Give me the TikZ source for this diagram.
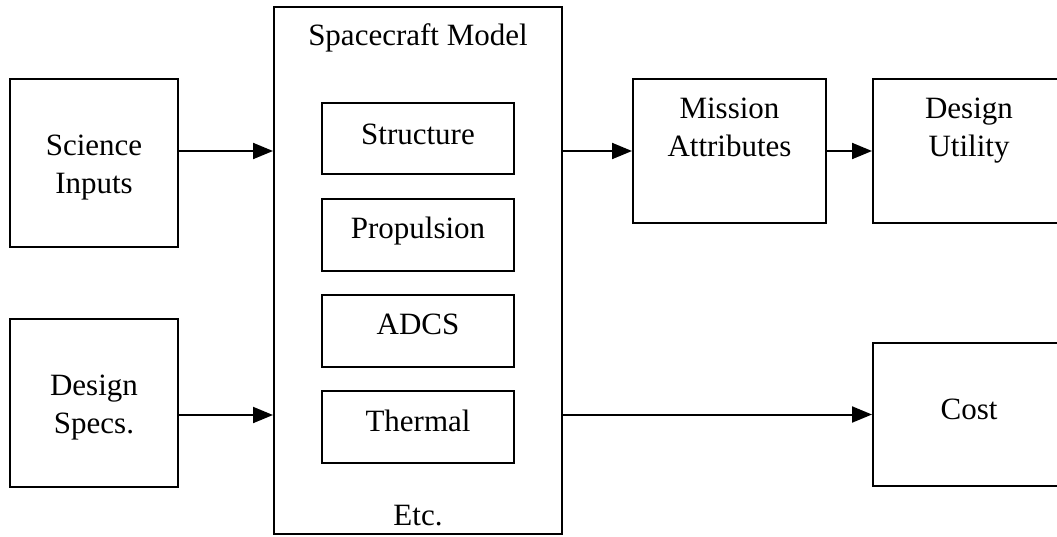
\documentclass[tikz,border=0pt]{standalone}
\usepackage{fontspec}
\setmainfont{Liberation Serif}
\usetikzlibrary{arrows.meta}
\begin{document}
\begin{tikzpicture}[x=1pt,y=1pt,
  box/.style={draw=black, line width=2pt, inner sep=0pt, minimum width=#1},
  lbl/.style={anchor=base, inner sep=0pt, font=\fontsize{31}{37}\selectfont},
  arr/.style={line width=2pt, -{Triangle[length=20pt,width=16pt]}}]
  \clip (0,0) rectangle (1057,-536);

  % inputs
  \node[box=168pt, minimum height=168pt] (sci)  at (94,-163) {};
  \node[box=168pt, minimum height=168pt] (spec) at (94,-403) {};

  % spacecraft model and its subsystems
  \node[box=288pt, minimum height=527pt] (sc) at (418,-270.5) {};
  \node[box=192pt, minimum height=71pt] (struct) at (418,-138.5) {};
  \node[box=192pt, minimum height=72pt] (prop)   at (418,-235) {};
  \node[box=192pt, minimum height=72pt] (adcs)   at (418,-331) {};
  \node[box=192pt, minimum height=72pt] (therm)  at (418,-427) {};

  % outputs
  \node[box=193pt, minimum height=144pt] (mis)  at (729.5,-151) {};
  \node[box=192pt, minimum height=144pt] (util) at (969,-151) {};
  \node[box=192pt, minimum height=143pt] (cost) at (969,-414.5) {};

  % labels
  \node[lbl] (tsci1) at (94,-155) {Science};
  \node[lbl] (tsci2) at (94,-193) {Inputs};
  \node[lbl] (tspec1) at (94,-395) {Design};
  \node[lbl] (tspec2) at (94,-433) {Specs.};
  \node[lbl] (tsc) at (418,-45) {Spacecraft Model};
  \node[lbl] (tstruct) at (418,-144) {Structure};
  \node[lbl] (tprop) at (418,-238) {Propulsion};
  \node[lbl] (tadcs) at (418,-334) {ADCS};
  \node[lbl] (ttherm) at (418,-431) {Thermal};
  \node[lbl] (tetc) at (418,-525) {Etc.};
  \node[lbl] (tmis1) at (729.5,-118) {Mission};
  \node[lbl] (tmis2) at (729.5,-156) {Attributes};
  \node[lbl] (tutil1) at (969,-118) {Design};
  \node[lbl] (tutil2) at (969,-156) {Utility};
  \node[lbl] (tcost) at (969,-419) {Cost};

  % connector levels
  \coordinate (ytop) at (0,-151);
  \coordinate (ybot) at (0,-415);

  % connectors
  \draw[arr] (sci.east |- ytop) -- (sc.west |- ytop);
  \draw[arr] (spec.east |- ybot) -- (sc.west |- ybot);
  \draw[arr] (sc.east |- mis.west) -- (mis.west);
  \draw[arr] (mis.east) -- (util.west);
  \draw[arr] (sc.east |- cost.west) -- (cost.west);
\end{tikzpicture}
\end{document}
